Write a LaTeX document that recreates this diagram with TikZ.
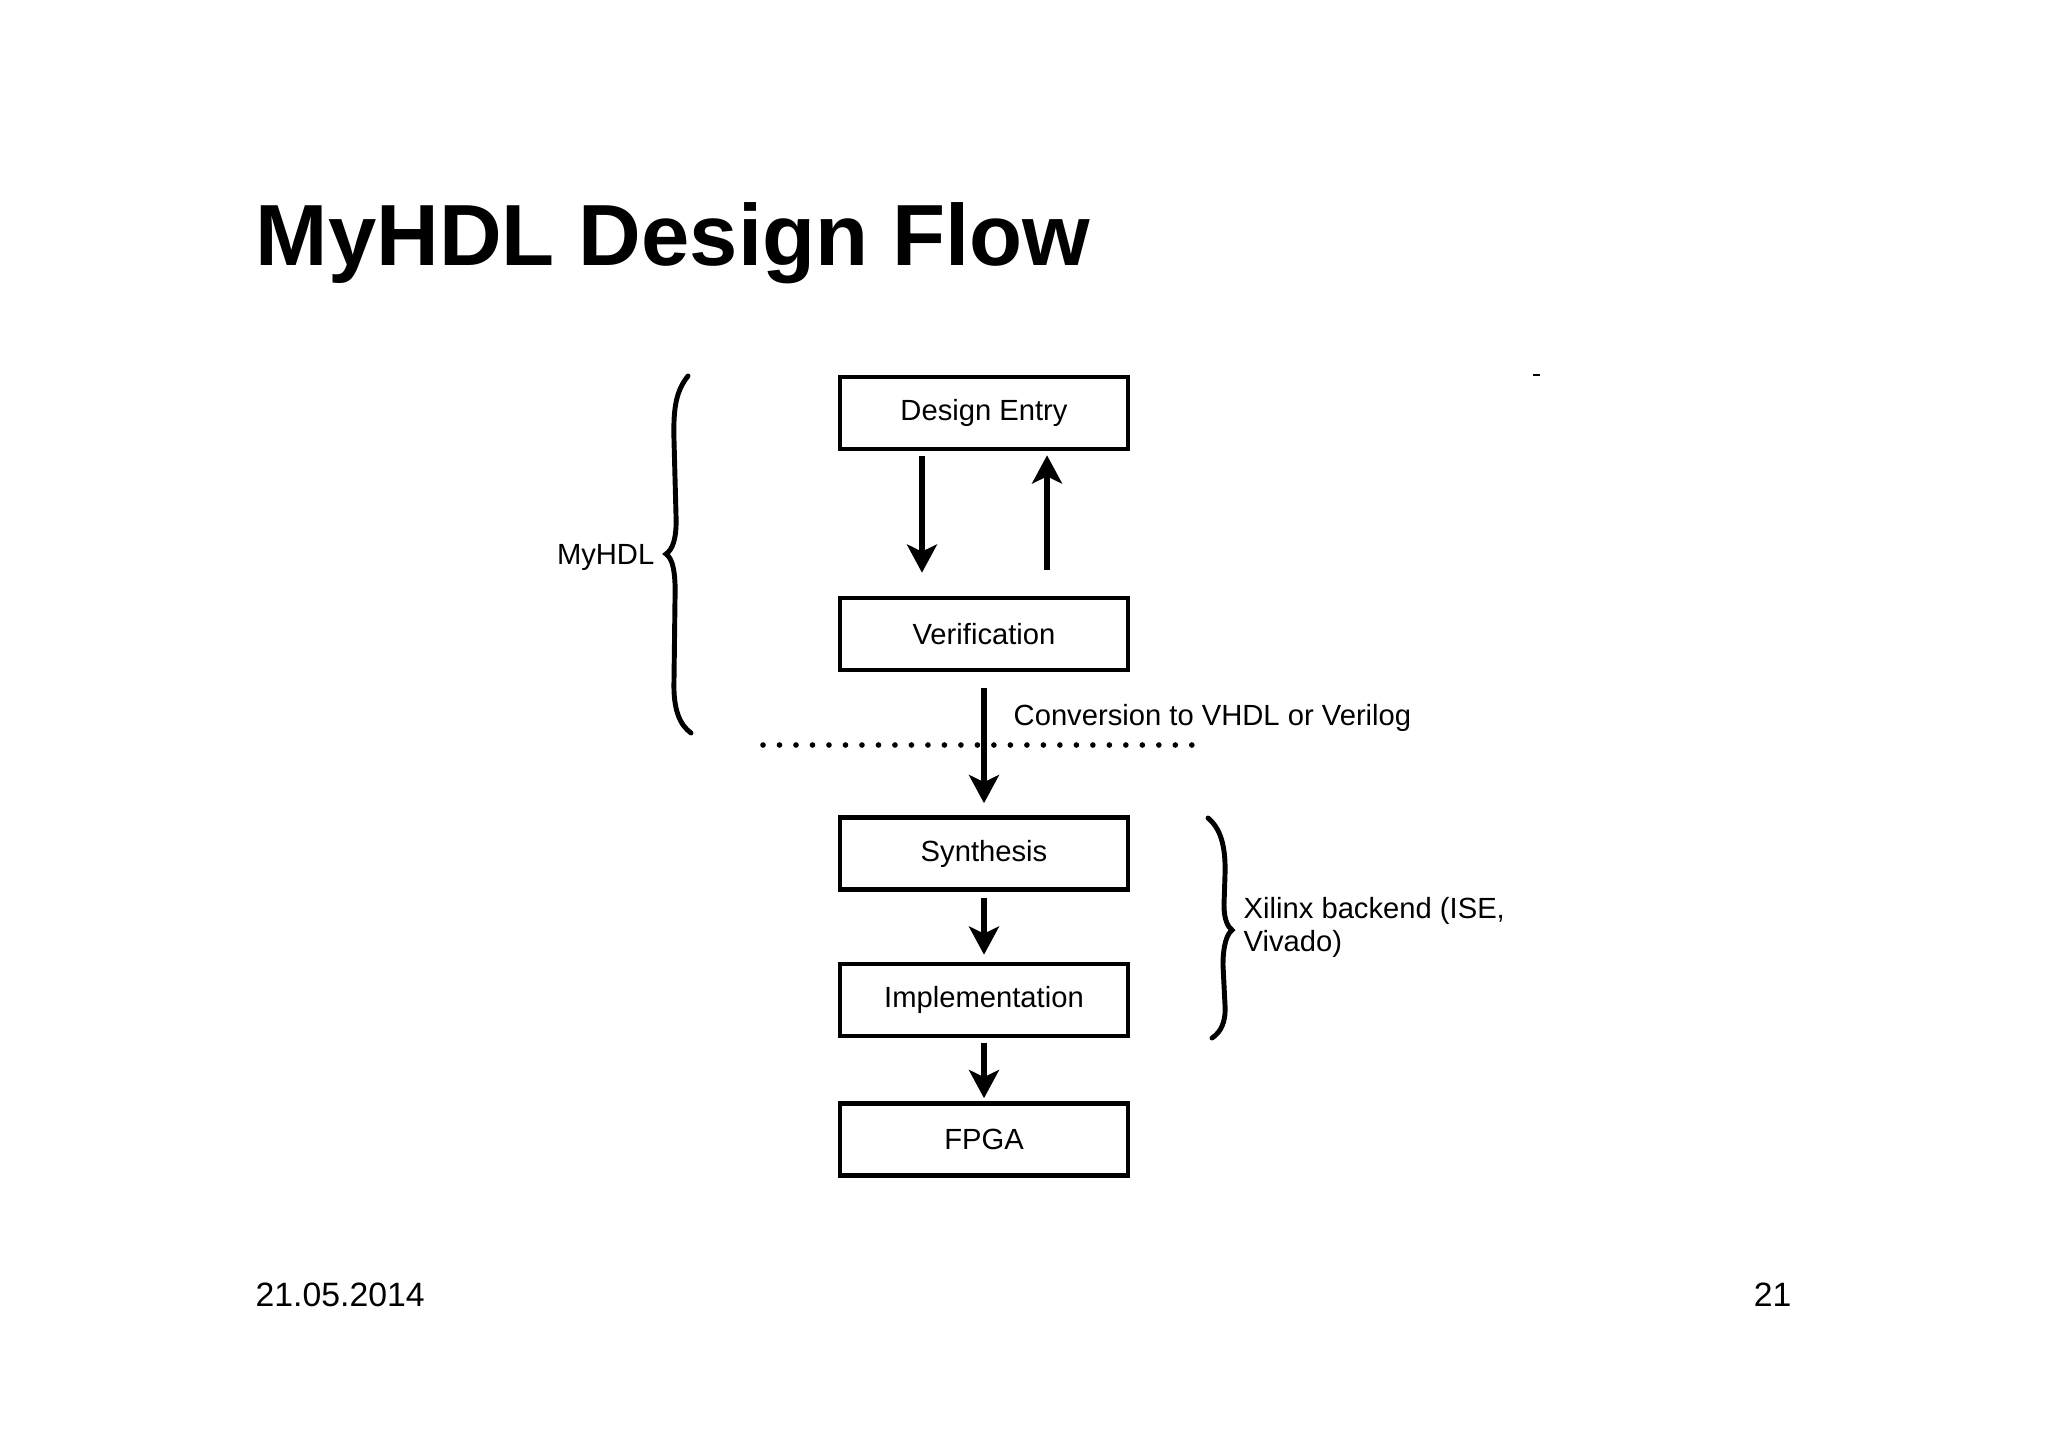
\documentclass[tikz,border=0pt]{standalone}
\usepackage{fontspec}
\setmainfont{Liberation Sans}
\usetikzlibrary{arrows.meta}
\begin{document}
\begin{tikzpicture}[x=0.01cm,y=-0.01cm,
  stagebox/.style={draw=black,line width=1.3pt,minimum width=2.88cm,minimum height=0.72cm,inner sep=0pt,font=\fontsize{8.3}{10}\selectfont},
  flowarrow/.style={line width=1.8pt,-{Stealth[length=8pt,width=8.5pt,inset=2pt]}},
  bracestroke/.style={line width=1.4pt,line cap=round},
  lbl/.style={font=\fontsize{8.3}{10}\selectfont,inner sep=0pt},
  footer/.style={font=\fontsize{9.6}{11}\selectfont,inner sep=0pt}]
\useasboundingbox[fill=white] (0,0) rectangle (2048,1448);
% title
\node[anchor=base west,inner sep=0pt,font=\bfseries\fontsize{24.7}{30}\selectfont] (title) at (255,265) {MyHDL Design Flow};
% boxes
\node[stagebox] (de) at (984,413) {Design Entry};
\node[stagebox] (ver) at (984,634) {Verification};
\node[stagebox] (syn) at (984,853.5) {Synthesis};
\node[stagebox] (impl) at (984,1000) {Implementation};
\node[stagebox] (fpga) at (984,1139.5) {FPGA};
% arrows
\draw[flowarrow] ([xshift=-0.62cm,yshift=-0.05cm]de.south) -- ([xshift=-0.62cm,yshift=0.23cm]ver.north);
\draw[flowarrow] ([xshift=0.63cm,yshift=0.26cm]ver.north) -- ([xshift=0.63cm,yshift=-0.04cm]de.south);
\draw[flowarrow] ([yshift=-0.16cm]ver.south) -- ([yshift=0.12cm]syn.north);
\draw[flowarrow] ([yshift=-0.06cm]syn.south) -- ([yshift=0.07cm]impl.north);
\draw[flowarrow] ([yshift=-0.05cm]impl.south) -- ([yshift=0.03cm]fpga.north);
% dotted separator
\coordinate (dl) at (763,745);
\coordinate (dr) at (1193,745);
\draw[line width=1.6pt,line cap=round,dash pattern=on 0pt off 4.69pt] (dl) -- (dr);
% labels
\node[lbl,anchor=base west] (conv) at (1013,725) {Conversion to VHDL or Verilog};
\node[lbl,anchor=base east] (myhdl) at (655,564) {MyHDL};
\node[lbl,anchor=base west] (xil1) at (1243,918) {Xilinx backend (ISE,};
\node[lbl,anchor=base west] (xil2) at (1243,951) {Vivado)};
% left brace
\draw[bracestroke] (688,376) .. controls (677,390) and (673,405) .. (674,440) -- (676,515)
  .. controls (677,540) and (672,550) .. (666,554)
  .. controls (672,558) and (676,570) .. (675,600) -- (674,680)
  .. controls (673,710) and (680,725) .. (691,733);
% right brace
\draw[bracestroke] (1208,818) .. controls (1220,828) and (1226,845) .. (1225,875) -- (1224,905)
  .. controls (1224,920) and (1228,927) .. (1232,930)
  .. controls (1227,934) and (1223,945) .. (1223,965) -- (1225,1005)
  .. controls (1226,1022) and (1221,1032) .. (1212,1038);
% small dash
\draw[line width=0.6pt] (1533,375) -- (1540,375);
% footer
\node[footer,anchor=base west] (date) at (255,1306) {21.05.2014};
\node[footer,anchor=base east] (page) at (1792,1306) {21};
\end{tikzpicture}
\end{document}
